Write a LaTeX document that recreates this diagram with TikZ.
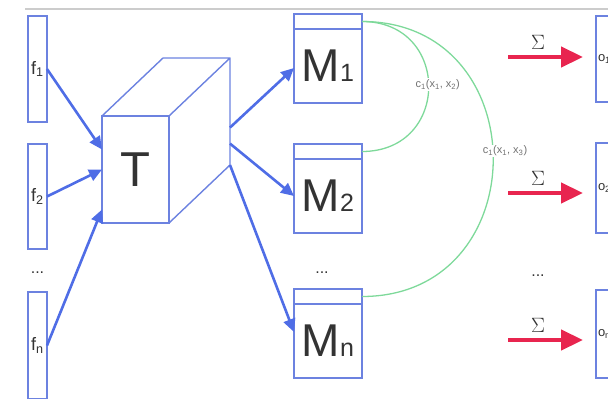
\documentclass[tikz,border=0pt]{standalone}
\usepackage{fontspec}
\setmainfont{Liberation Sans}
\usetikzlibrary{positioning,arrows.meta,calc}
\definecolor{boxblue}{HTML}{6C82E0}
\definecolor{arrblue}{HTML}{4F6DE6}
\definecolor{arcgreen}{HTML}{7ED99A}
\definecolor{sumred}{HTML}{E8254F}
\definecolor{txtgray}{HTML}{333333}
\newcommand\msmall[1]{{\fontsize{25}{25}\selectfont #1}}

\begin{document}
\begin{tikzpicture}[x=1pt,y=-1pt,
 box/.style={draw=boxblue,line width=1.4pt,fill=white,inner sep=0pt,outer sep=0pt,text=txtgray},
 fbox/.style={box,minimum width=19pt,minimum height=#1,font=\fontsize{18}{18}\selectfont},
 mhead/.style={box,minimum width=68pt,minimum height=15pt},
 mbody/.style={box,minimum width=68pt,minimum height=74pt,font=\fontsize{46}{46}\selectfont},
 obox/.style={box,minimum height=#1,text width=26pt,inner sep=2pt,align=left,font=\fontsize{13}{13}\selectfont},
 flow/.style={arrblue,line width=2.6pt,-{Triangle[length=13pt,width=12pt]}},
 sum/.style={sumred,line width=4.5pt,-{Triangle[length=22pt,width=20pt]},shorten >=13pt},
 corr/.style={arcgreen,line width=1.3pt},
 clab/.style={fill=white,inner sep=1pt,text=gray!90!black,font=\fontsize{11}{11}\selectfont},
 ellip/.style={text=txtgray,font=\fontsize{16}{16}\selectfont}]
\useasboundingbox (0,0) rectangle (608,399);
\draw[gray!40,line width=1.2pt] (25,9) -- (608,9);

% inputs
\node[fbox=106pt] (f1) at (37.5,69) {f\textsubscript{1}};
\node[fbox=105pt] (f2) at (37.5,196.5) {f\textsubscript{2}};
\node[ellip] (fdots) at (37.5,273) {...};
\node[fbox=107pt] (fn) at (37.5,345.5) {f\textsubscript{n}};

% tensor
\node[box,minimum width=67pt,minimum height=107pt,font=\fontsize{49}{49}\selectfont] (T) at (135.5,169.5) {T};
\coordinate (Ttl) at ([shift={(61pt,58pt)}]T.north west);
\coordinate (Ttr) at ([shift={(61pt,58pt)}]T.north east);
\coordinate (Tbr) at ([shift={(61pt,58pt)}]T.south east);
\draw[boxblue,line width=1.4pt,line join=round] (T.north west) -- (Ttl) -- (Ttr) -- (T.north east) (Ttr) -- (Tbr) -- (T.south east);

\draw[flow] (f1.east) -- ([yshift=20pt]T.west);
\draw[flow] (f2.east) -- (T.west);
\draw[flow] (fn.east) -- ([yshift=-40pt]T.west);

% models
\foreach \i/\y in {1/21.5,2/151.5,n/296.5} {
  \node[mhead] (h\i) at (328,\y) {};
  \node[mbody,below=0pt of h\i] (M\i) {M\msmall{\i}};
}
\node[ellip] (mdots) at (322,273) {...};
\foreach \p/\m/\d in {0.65/1/-2pt,0.8/2/0pt,1/n/9pt} \draw[flow] ($(Ttr)!\p!(Tbr)$) -- ([yshift=\d]M\m.west);

% correlations
\draw[corr] (h1.east) .. controls +(89,0) and +(89,0) .. (h2.east) node[clab,pos=0.49,xshift=9pt] {c\textsubscript{1}(x\textsubscript{1}, x\textsubscript{2})};
\draw[corr] (h1.east) .. controls +(175,0) and +(175,0) .. (hn.east) node[clab,pos=0.48,xshift=12pt] {c\textsubscript{1}(x\textsubscript{1}, x\textsubscript{3})};

% outputs
\foreach \i/\y/\h/\a in {1/59/86pt/57,2/188/90pt/193,n/334/88pt/340} {
  \node[obox=\h] (o\i) at (611,\y) {o\textsubscript{\i}};
  \coordinate (s\i) at (508,\a);
  \draw[sum] (s\i) -- (s\i -| o\i.west) node[pos=0.34,above=2pt,text=txtgray,font=\fontsize{20}{20}\selectfont] {$\Sigma$};
}
\node[ellip] (odots) at (538,276) {...};
\end{tikzpicture}
\end{document}
